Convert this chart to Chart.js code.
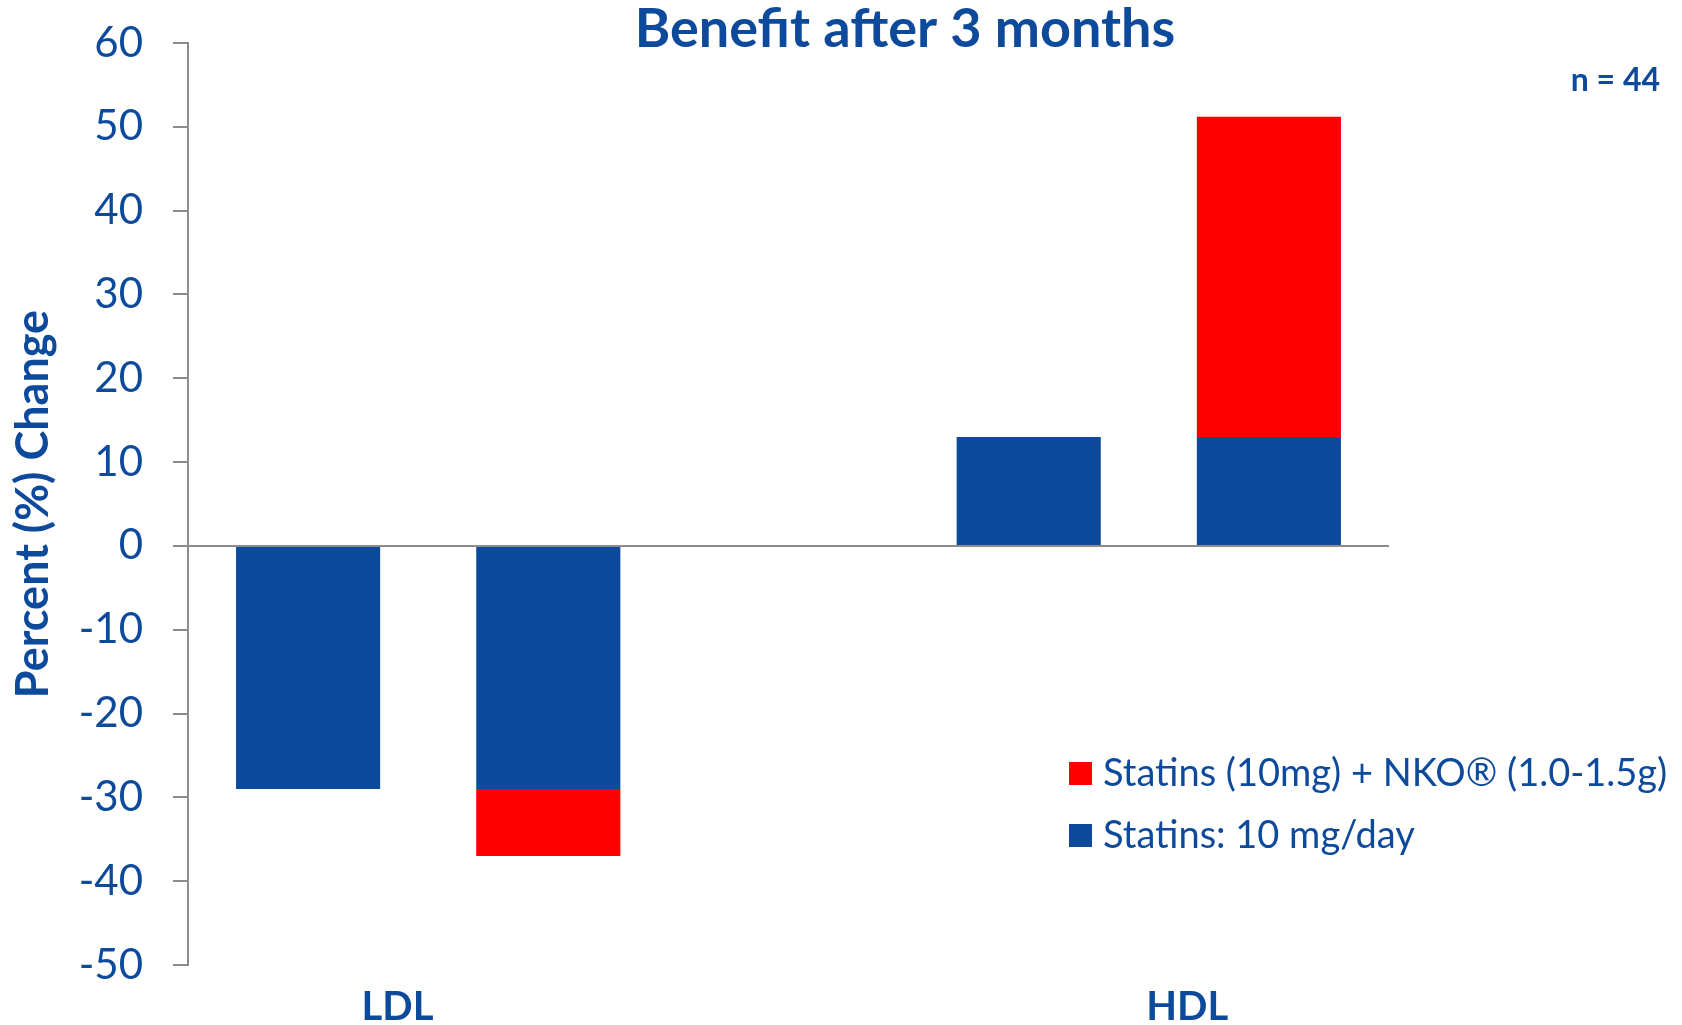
<!DOCTYPE html>
<html>
<head>
<meta charset="utf-8">
<title>Benefit after 3 months</title>
<script src="https://cdn.jsdelivr.net/npm/chart.js@4.4.1/dist/chart.umd.min.js"></script>
<style>
  html, body { margin: 0; padding: 0; background: #fff; }
  #wrap { width: 1682px; height: 1025px; }
</style>
</head>
<body>
<div id="wrap"><canvas id="benefit" width="1682" height="1025"></canvas></div>
<script>
// bar slots: two for LDL, an empty gap, two for HDL
var slots = ["LDL statins", "LDL statins + NKO", "", "HDL statins", "HDL statins + NKO"];
// percent change with statins alone
var statins = [-29, -29, null, 13, 13];
// extra change added by NKO on top of statins
var nko = [null, -8, null, null, 38.2];
var groupLabels = ["LDL", "HDL"];
var yTicks = { min: -50, max: 60, step: 10 };

var blue = "#0d4a9c";
var red = "#ff0000";
var textBlue = "#0d4a9c";
var axisGrey = "#8c8c8c";

// title, n, group labels and legend drawn by hand
var extraText = {
  id: "extraText",
  afterDraw: function (chart) {
    var ctx = chart.ctx;
    var xs = chart.scales.x;
    ctx.save();
    ctx.fillStyle = textBlue;
    ctx.textBaseline = "alphabetic";
    ctx.font = "bold 54px Lato";
    ctx.textAlign = "center";
    ctx.fillText("Benefit after 3 months", 905, 47);

    ctx.font = "bold 32px Lato";
    ctx.textAlign = "right";
    ctx.fillText("n = 44", 1660, 91);

    // group labels under the bars (placed a bit off the slot centres, as in the original)
    ctx.font = "bold 40px Lato";
    ctx.textAlign = "center";
    var groupPos = [0.372, 3.66];
    for (var g = 0; g < groupLabels.length; g++) {
      ctx.fillText(groupLabels[g], xs.getPixelForValue(groupPos[g]), 1020);
    }

    // legend, last dataset on top
    var ds = chart.data.datasets.slice().reverse();
    ctx.font = "38px Lato";
    ctx.textAlign = "left";
    ctx.textBaseline = "middle";
    for (var i = 0; i < ds.length; i++) {
      var y = 762 + i * 62;
      ctx.fillStyle = ds[i].backgroundColor;
      ctx.fillRect(1069, y, 23, 23);
      ctx.fillStyle = textBlue;
      ctx.fillText(ds[i].label, 1103, y + 12);
    }
    ctx.restore();
  }
};

var ctx1 = document.getElementById("benefit");
var myChart = new Chart(ctx1, {
  type: "bar",
  data: {
    labels: slots,
    datasets: [
      {
        label: "Statins: 10 mg/day",
        backgroundColor: blue,
        data: statins,
        borderWidth: 0
      },
      {
        label: "Statins (10mg) + NKO\u00ae (1.0-1.5g)",
        backgroundColor: red,
        data: nko,
        borderWidth: 0
      }
    ]
  },
  options: {
    responsive: false,
    animation: false,
    barPercentage: 0.6,
    categoryPercentage: 1.0,
    layout: {
      padding: { left: 0, right: 293, top: 43, bottom: 60 }
    },
    plugins: {
      legend: { display: false },
      title: { display: false },
      tooltip: { enabled: false }
    },
    scales: {
      x: {
        stacked: true,
        display: false
      },
      y: {
        stacked: true,
        min: yTicks.min,
        max: yTicks.max,
        afterFit: function (scale) {
          scale.width = 188;
          scale.paddingTop = 0;
          scale.paddingBottom = 0;
        },
        ticks: {
          stepSize: yTicks.step,
          padding: 30,
          color: textBlue,
          font: { family: "Lato", size: 42 }
        },
        grid: {
          drawOnChartArea: true,
          lineWidth: 2,
          color: function (c) {
            return c.tick && c.tick.value === 0 ? axisGrey : "rgba(0,0,0,0)";
          },
          tickColor: axisGrey,
          tickWidth: 2,
          tickLength: 15
        },
        border: { color: axisGrey, width: 2 },
        title: {
          display: true,
          text: "Percent (%) Change",
          color: textBlue,
          font: { family: "Lato", size: 45, weight: "bold" },
          padding: { top: 6, bottom: 0 }
        }
      }
    }
  },
  plugins: [extraText]
});
</script>
</body>
</html>
